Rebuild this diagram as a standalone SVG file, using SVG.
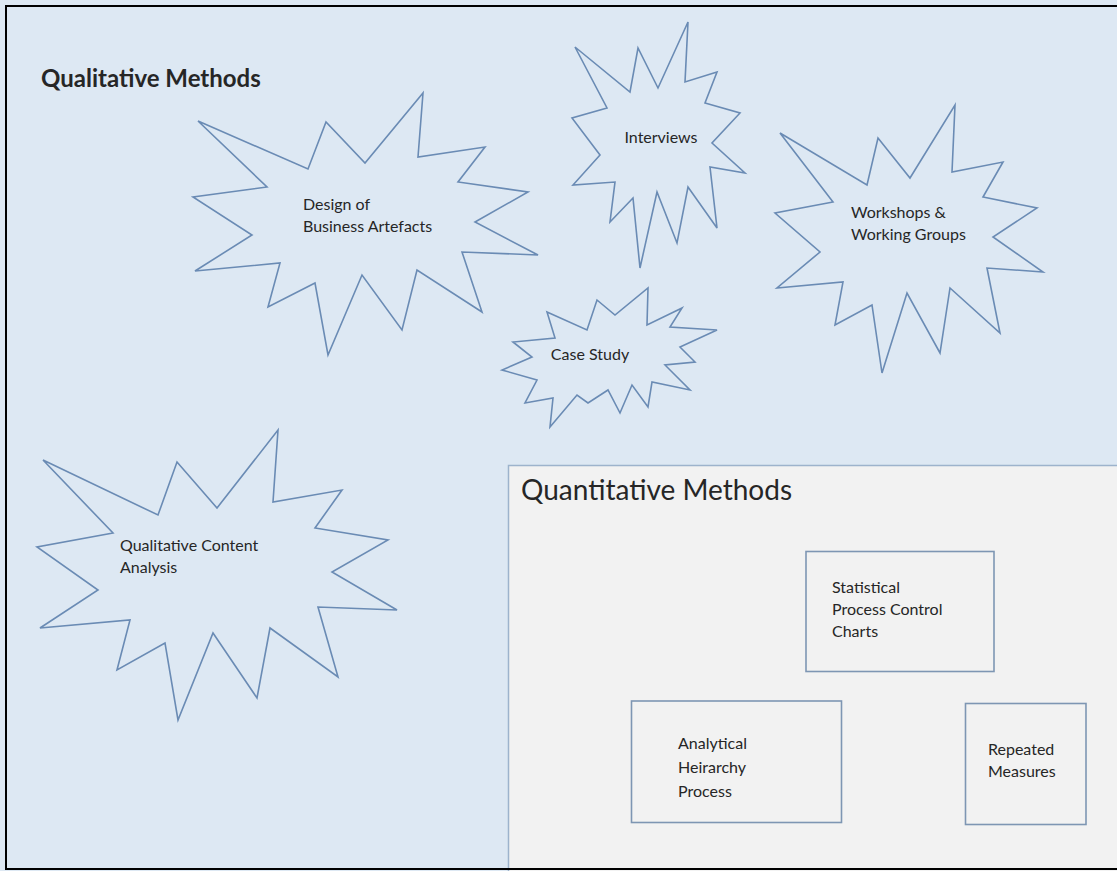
<svg xmlns="http://www.w3.org/2000/svg" width="1117" height="871" viewBox="0 0 1117 871">
  <style>
    .panel-qual { fill: #dde8f3; }
    .panel-quant { fill: #f2f2f2; stroke: #9db3cc; stroke-width: 1.5; }
    .burst { fill: #dde8f3; stroke: #6a8bb4; stroke-width: 1.6; stroke-linejoin: miter; }
    .box { fill: #f2f2f2; stroke: #7e96b3; stroke-width: 1.6; }
    .frame { fill: none; stroke: #000000; stroke-width: 2; }
    text { font-family: Lato, "Liberation Sans", sans-serif; fill: #262626; }
    .label { font-size: 16px; }
    .title-qual { font-size: 24px; font-weight: bold; }
    .title-quant { font-size: 28px; }
  </style>

  <!-- background panels -->
  <rect class="panel-qual" x="0" y="0" width="1117" height="871"/>
  <g id="quantitative-panel">
    <rect class="panel-quant" x="508.5" y="465.5" width="620" height="420"/>
    <text class="title-quant" x="521" y="500">Quantitative Methods</text>
  </g>
  <g id="qualitative-title">
    <text class="title-qual" x="41" y="87">Qualitative Methods</text>
  </g>

  <!-- qualitative methods drawn as bursts -->
  <g id="design-of-business-artefacts">
    <polygon class="burst" points="198,121 308,169 326,122 365,163 423,93 418,157 485,147 458,182 528,192 475,222 538,255 462,252 482,312 417,270 402,330 362,275 328,355 315,283 268,307 280,263 195,271 252,235 193,197 267,187"/>
    <text class="label" x="303" y="210">Design of</text>
    <text class="label" x="303" y="232">Business Artefacts</text>
  </g>

  <g id="interviews">
    <polygon class="burst" points="575,47 630,92 638,48 658,88 688,22 685,82 717,72 705,103 740,113 712,143 745,173 710,167 717,228 688,187 677,243 657,192 640,268 633,198 610,222 615,182 573,185 600,155 572,118 607,108"/>
    <text class="label" x="661" y="143" text-anchor="middle">Interviews</text>
  </g>

  <g id="workshops-working-groups">
    <polygon class="burst" points="780,133 867,185 878,138 910,178 955,105 952,172 1003,162 983,197 1037,208 993,237 1043,272 987,268 1000,333 950,288 940,353 907,293 882,373 872,305 835,325 843,282 777,288 820,252 775,213 833,202"/>
    <text class="label" x="851" y="218">Workshops &amp;</text>
    <text class="label" x="851" y="240">Working Groups</text>
  </g>

  <g id="case-study">
    <polygon class="burst" points="547,312 587,330 597,300 615,315 648,288 647,325 682,308 670,327 717,330 680,347 695,362 665,365 690,390 652,382 648,407 632,385 620,413 608,390 588,403 577,395 550,427 553,398 525,403 537,380 502,370 532,357 513,342 555,338"/>
    <text class="label" x="590" y="360" text-anchor="middle">Case Study</text>
  </g>

  <g id="qualitative-content-analysis">
    <polygon class="burst" points="43,460 158,515 177,462 217,508 278,430 273,502 342,490 315,528 388,540 332,572 397,610 318,607 338,677 270,628 257,698 213,633 178,720 165,643 117,670 130,620 40,628 98,590 37,547 113,533"/>
    <text class="label" x="120" y="551">Qualitative Content</text>
    <text class="label" x="120" y="573">Analysis</text>
  </g>

  <!-- quantitative methods drawn as boxes -->
  <g id="statistical-process-control-charts">
    <rect class="box" x="806" y="551.5" width="188" height="120"/>
    <text class="label" x="832" y="593">Statistical</text>
    <text class="label" x="832" y="615">Process Control</text>
    <text class="label" x="832" y="637">Charts</text>
  </g>

  <g id="analytical-hierarchy-process">
    <rect class="box" x="631.5" y="701" width="210" height="121.5"/>
    <text class="label" x="678" y="749">Analytical</text>
    <text class="label" x="678" y="773">Heirarchy</text>
    <text class="label" x="678" y="797">Process</text>
  </g>

  <g id="repeated-measures">
    <rect class="box" x="965.5" y="703.5" width="120.5" height="121"/>
    <text class="label" x="988" y="755">Repeated</text>
    <text class="label" x="988" y="777">Measures</text>
  </g>

  <!-- no connectors between methods -->
  <g id="connectors"/>

  <rect class="frame" x="6" y="6" width="1112" height="863"/>
</svg>
